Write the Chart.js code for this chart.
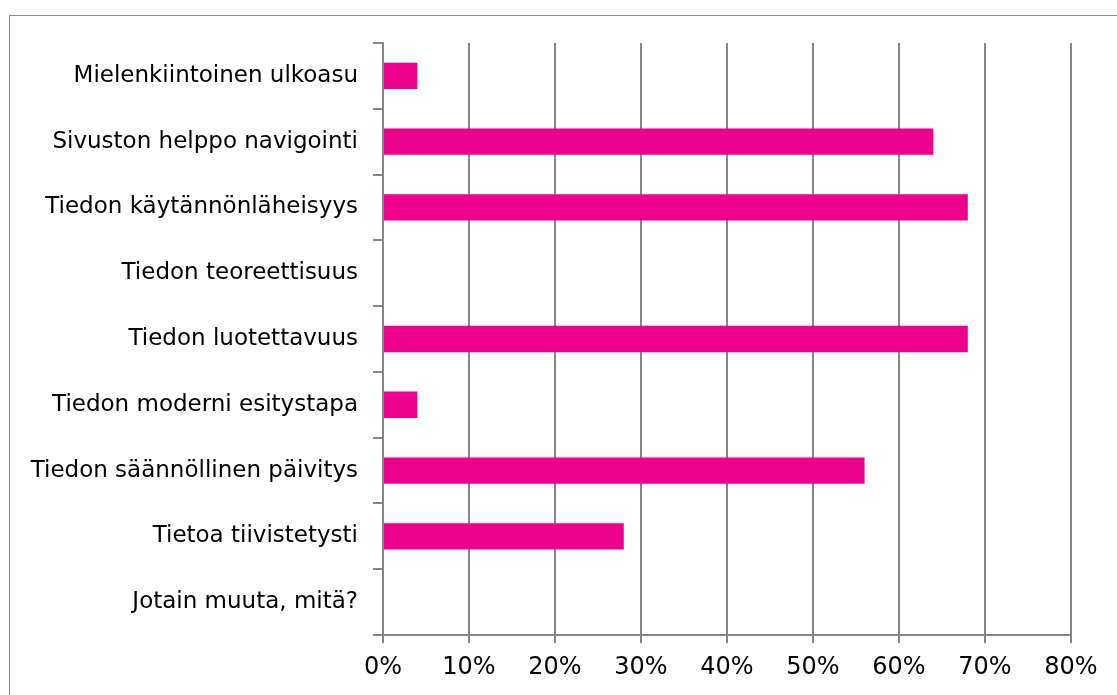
<!DOCTYPE html>
<html>
<head>
<meta charset="utf-8">
<script src="https://cdn.jsdelivr.net/npm/chart.js@4"></script>
<style>
  html, body { margin: 0; padding: 0; background: #fff; overflow: hidden; }
  #wrap { position: relative; width: 1117px; height: 695px; }
  #frame { position: absolute; left: 9px; top: 15px; width: 1200px; height: 800px; border: 1px solid #8c8c8c; box-sizing: border-box; }
  canvas { position: absolute; left: 0; top: 0; }
</style>
</head>
<body>
<div id="wrap">
  <div id="frame"></div>
  <canvas id="chart" width="1117" height="695"></canvas>
</div>
<script>
// Categories (top to bottom) and share of answers in percent
const categories = [
  "Mielenkiintoinen ulkoasu",
  "Sivuston helppo navigointi",
  "Tiedon käytännönläheisyys",
  "Tiedon teoreettisuus",
  "Tiedon luotettavuus",
  "Tiedon moderni esitystapa",
  "Tiedon säännöllinen päivitys",
  "Tietoa tiivistetysti",
  "Jotain muuta, mitä?"
];
const values = [4, 64, 68, 0, 68, 4, 56, 28, 0];
const axisMax = 80;
const axisStep = 10;

const gridColor = "#868686";
const barColor = "#ec008c";
const fontFamily = "Tahoma, 'DejaVu Sans', sans-serif";

new Chart(document.getElementById("chart"), {
  type: "bar",
  data: {
    labels: categories,
    datasets: [{
      data: values,
      backgroundColor: barColor,
      borderWidth: 0,
      categoryPercentage: 1,
      barPercentage: 0.4
    }]
  },
  options: {
    indexAxis: "y",
    responsive: false,
    animation: false,
    layout: { padding: { top: 43, right: 46, bottom: 0, left: 0 } },
    plugins: {
      legend: { display: false },
      tooltip: { enabled: false }
    },
    scales: {
      x: {
        min: 0,
        max: axisMax,
        ticks: {
          stepSize: axisStep,
          color: "#000",
          font: { family: fontFamily, size: 24 },
          padding: 10,
          callback: v => v + "%"
        },
        grid: {
          color: gridColor,
          lineWidth: 2,
          tickLength: 8,
          drawTicks: true
        },
        border: { display: true, color: gridColor, width: 2 },
        afterFit: s => { s.height = 60; }
      },
      y: {
        ticks: {
          color: "#000",
          font: { family: fontFamily, size: 23 },
          padding: 15
        },
        grid: {
          offset: true,
          drawOnChartArea: false,
          drawTicks: true,
          tickLength: 10,
          color: gridColor,
          lineWidth: 2
        },
        border: { display: true, color: gridColor, width: 2 },
        afterFit: s => { s.width = 383; }
      }
    }
  }
});
</script>
</body>
</html>
